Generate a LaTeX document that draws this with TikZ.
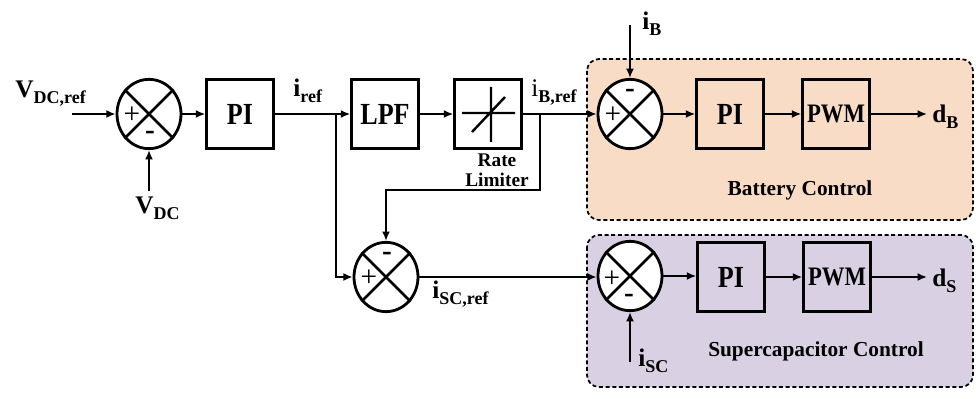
\documentclass[tikz,border=0pt]{standalone}
\usepackage{fontspec}
\setmainfont{Liberation Serif}
\newfontfamily\cf{Liberation Serif}[FakeStretch=0.85]
\usetikzlibrary{arrows.meta,shapes.geometric,calc}
\definecolor{peach}{HTML}{F9DCC6}
\definecolor{lav}{HTML}{D9D0E3}
\newcommand\mainL[1]{{\bfseries\fontsize{19}{19}\selectfont #1}}
\newcommand\subL[1]{\raisebox{-4pt}{\bfseries\fontsize{13.5}{13.5}\selectfont #1}}
\begin{document}
\begin{tikzpicture}[x=0.75pt,y=-0.75pt,line width=2.1pt,
  arr/.style={-{Latex[length=7pt,width=6pt]}},
  blk/.style={draw,minimum width=50pt,minimum height=52pt,inner sep=0pt,font=\cf\bfseries\fontsize{23}{23}\selectfont},
  pwm/.style={blk,font=\cf\bfseries\fontsize{20}{20}\selectfont},
  sumj/.style={draw,ellipse,fill=white,minimum width=48pt,minimum height=52pt,inner sep=0pt},
  sgn/.style={inner sep=0pt,font=\fontsize{22}{22}\selectfont},
  msgn/.style={inner sep=0pt,font=\bfseries\fontsize{22}{22}\selectfont},
  grp/.style={draw,dash pattern=on 3pt off 2pt,line width=1.3pt,rounded corners=9pt},
  lbl/.style={inner sep=0pt,anchor=base west},
  captxt/.style={inner sep=0pt,font=\bfseries\fontsize{16}{16}\selectfont}]
\useasboundingbox (0,0) rectangle (976,399);
% group backgrounds
\draw[grp,fill=peach] (587,59) rectangle (973,220);
\draw[grp,fill=lav] (587,235) rectangle (973,387);
% blocks
\node[sumj] (s1) at (149,114) {};
\node[blk] (pi1) at (240,114) {PI};
\node[blk] (lpf) at (385,114) {LPF};
\node[blk] (rl) at (488,114) {};
\node[sumj] (s2) at (630,114) {};
\node[blk] (pi2) at (730,114) {PI};
\node[pwm] (pwm1) at (836,114) {PWM};
\node[sumj] (s3) at (386,277) {};
\node[sumj] (s4) at (630,276) {};
\node[blk] (pi3) at (731,277) {PI};
\node[pwm] (pwm2) at (837,277) {PWM};
% crosses in summing junctions
\foreach \s in {s1,s2,s3,s4}{
  \draw (\s.45) -- (\s.225) (\s.135) -- (\s.315);
}
% signs
\node[sgn] at ($(s1)+(-17,1)$) {+};
\node[msgn] at ($(s1)+(1,21)$) {-};
\node[sgn] at ($(s2)+(-17,1)$) {+};
\node[msgn] at ($(s2)+(0,-21)$) {-};
\node[sgn] at ($(s3)+(-17,1)$) {+};
\node[msgn] at ($(s3)+(1,-21)$) {-};
\node[sgn] at ($(s4)+(-18,3)$) {+};
\node[msgn] at ($(s4)+(-1,22)$) {-};
% rate limiter symbol
\draw[line width=1.8pt] ($(rl)+(-26,-1)$) -- ($(rl)+(27,-1)$)
  ($(rl)+(3,-27)$) -- ($(rl)+(3,28)$)
  ($(rl)+(-16,18)$) -- ($(rl)+(17,-17)$);
% coordinates for free ends
\coordinate (vin) at (72,114);
\coordinate (vdc) at (149,191);
\coordinate (ib) at (630,25);
\coordinate (isc) at (630,362);
\coordinate (db) at (927,114);
\coordinate (ds) at (927,277);
\coordinate (br1) at (336,114);
\coordinate (br2) at (540,114);
% connectors
\draw[arr] (vin) -- (s1.west);
\draw[arr] (vdc) -- (s1.south);
\draw[arr] (s1.east) -- (pi1.west);
\draw[arr] (pi1.east) -- (lpf.west);
\draw[arr] (lpf.east) -- (rl.west);
\draw[arr] (rl.east) -- (s2.west);
\draw[arr] (ib) -- (s2.north);
\draw[arr] (s2.east) -- (pi2.west);
\draw[arr] (pi2.east) -- (pwm1.west);
\draw[arr] (pwm1.east) -- (db);
\draw[arr] (br1) |- (s3.west);
\draw[arr] (br2) -- ++(0,76) -| (s3.north);
\draw[arr] (s3.east) -- (s3.east -| s4.west);
\draw[arr] (isc) -- (s4.south);
\draw[arr] (s4.east) -- (s4.east -| pi3.west);
\draw[arr] (pi3.east) -- (pwm2.west);
\draw[arr] (pwm2.east) -- (ds);
% labels
\node[lbl] (lvref) at (14,98) {\mainL{V}\subL{DC,ref}};
\node[lbl] (lvdc) at (134,214) {\mainL{V}\subL{DC}};
\node[lbl] (liref) at (292,97) {\mainL{i}\subL{ref}};
\node[lbl] (libref) at (530,97) {{\fontsize{19}{19}\selectfont i}\subL{B,ref}};
\node[lbl] (lib) at (641,30) {\mainL{i}\subL{B}};
\node[lbl] (ldb) at (931,123) {\mainL{d}\subL{B}};
\node[lbl] (liscref) at (431,299) {\mainL{i}\subL{SC,ref}};
\node[lbl] (lisc) at (637,367) {\mainL{i}\subL{SC}};
\node[lbl] (lds) at (931,287) {\mainL{d}\subL{S}};
\node[captxt,align=center,font=\bfseries\fontsize{14.5}{15}\selectfont,text depth=0pt] (lrl) at (497,170) {Rate\\Limiter};
\node[captxt] (lbc) at (800,190) {Battery Control};
\node[captxt] (lsc) at (816,351) {Supercapacitor Control};
\end{tikzpicture}
\end{document}
